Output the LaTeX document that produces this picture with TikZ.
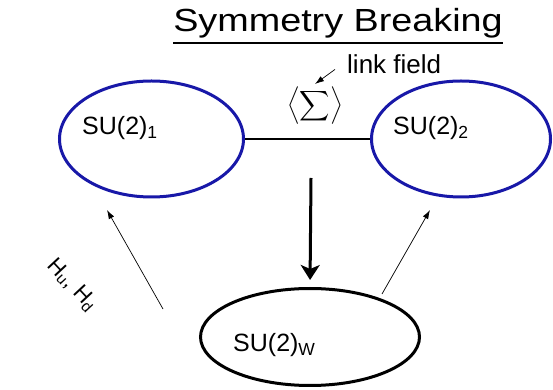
\documentclass[tikz,border=0pt]{standalone}
\usepackage[no-math]{fontspec}
\setmainfont{Liberation Sans}
\newfontfamily\titlefont[FakeStretch=1.18]{Liberation Sans}
\usetikzlibrary{arrows.meta,shapes.geometric}
\definecolor{groupblue}{RGB}{24,24,168}

\begin{document}
\begin{tikzpicture}[x=1pt, y=1pt,
  group/.style={ellipse, draw, line width=3pt, inner sep=0pt},
  lbl/.style={anchor=base west, inner sep=0pt, font=\fontsize{25}{28}\selectfont},
  thinarrow/.style={-{Latex[length=9pt,width=6pt]}, line width=0.7pt}]
  \useasboundingbox (0,0) rectangle (553,390);
  % Title
  \node[anchor=base, inner sep=0pt, font=\titlefont\fontsize{32}{36}\selectfont] (title) at (338,358) {Symmetry Breaking};
  \draw[line width=1.8pt] ([yshift=-11pt]title.base west) -- ([yshift=-11pt]title.base east);
  % Gauge groups
  \node[group, draw=groupblue, minimum width=184pt, minimum height=116pt] (su1) at (151.5,251) {};
  \node[group, draw=groupblue, minimum width=179pt, minimum height=116pt] (su2) at (461,251) {};
  \node[group, minimum width=219pt, minimum height=97pt] (suw) at (310,53) {};
  \node[lbl] (su1lbl) at (82,255) {SU(2)\textsubscript{1}};
  \node[lbl] (su2lbl) at (393,255) {SU(2)\textsubscript{2}};
  \node[lbl] (suwlbl) at (233,38) {SU(2)\textsubscript{W}};
  % Link field
  \draw[line width=2.8pt] (su1) -- (su2);
  \node[scale=2.1, inner sep=0pt] (sigma) at (315,284) {$\displaystyle\left\langle\sum\right\rangle$};
  \node[anchor=base west, inner sep=0pt, font=\fontsize{26}{30}\selectfont] (link) at (347,316) {link field};
  \coordinate (linktip) at (315,306);
  \draw[thinarrow] ([shift={(-12pt,5pt)}]link.south west) -- (linktip);
  % Breaking down to SU(2)_W
  \coordinate (drop) at (311,212);
  \draw[line width=3pt, -{Stealth[length=15pt,width=19pt,inset=4pt]}, shorten >=7pt] (drop) -- (suw.north);
  % Higgs doublets
  \coordinate (hl0) at (163,81);
  \coordinate (hl1) at (107,180);
  \coordinate (hr0) at (382,96);
  \coordinate (hr1) at (430,180);
  \draw[thinarrow] (hl0) -- (hl1);
  \draw[thinarrow] (hr0) -- (hr1);
  \node[rotate=-47, inner sep=0pt, font=\fontsize{22}{24}\selectfont] (higgs) at (72,105) {H\textsubscript{u}, H\textsubscript{d}};
\end{tikzpicture}
\end{document}
